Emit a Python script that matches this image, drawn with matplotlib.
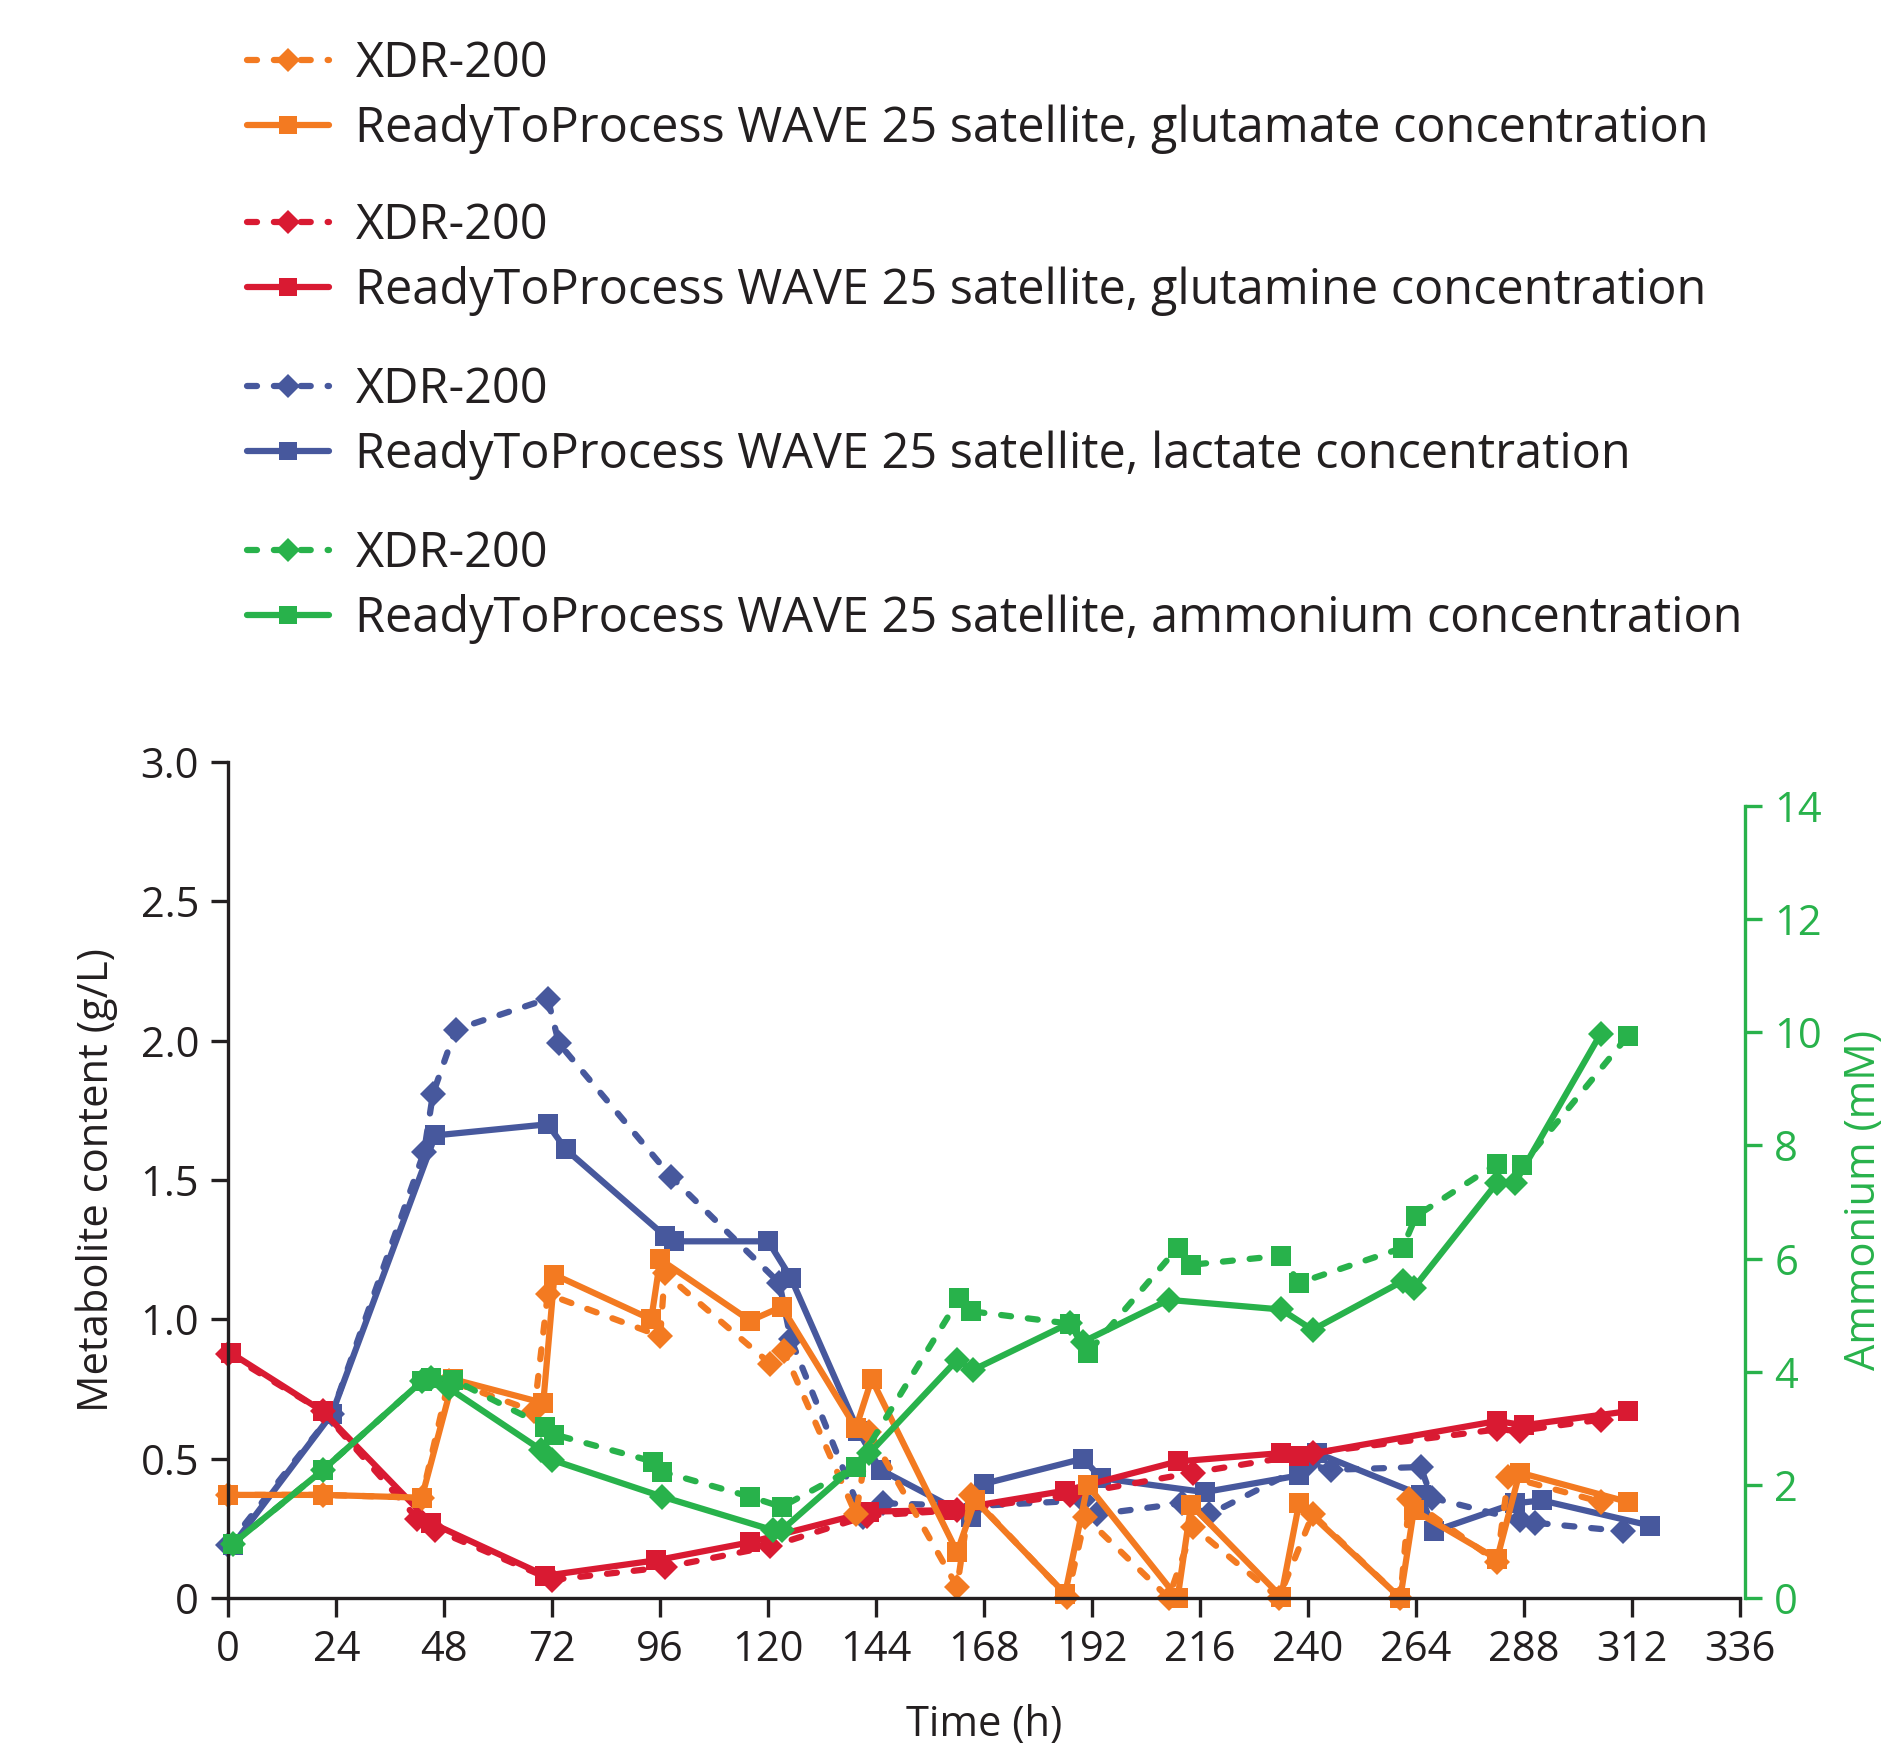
import matplotlib.pyplot as plt
from matplotlib.lines import Line2D

plt.rcParams['font.family'] = ['Open Sans', 'DejaVu Sans']

ORANGE = '#F37A21'
RED = '#D91A32'
BLUE = '#47589D'
GREEN = '#28B24B'
INK = '#231F20'

# glutamate (g/L)
t_glu_wave = [0, 21, 43, 50, 70, 72.5, 94, 96, 116, 123, 139.5, 143, 162, 166, 186, 191,
              211, 214, 234, 238, 260.5, 263.5, 282, 287, 311]
glu_wave = [0.37, 0.37, 0.36, 0.785, 0.70, 1.16, 1.00, 1.215, 0.995, 1.045, 0.61, 0.785, 0.165,
            0.35, 0.015, 0.405, 0.0, 0.335, 0.005, 0.34, 0.0, 0.315, 0.14, 0.45, 0.345]
t_glu_xdr = [0, 21, 43, 49, 68, 71, 96, 97, 120.5, 123.5, 139.5, 142.5, 162, 165, 186.5, 190.5,
             209, 214.5, 233.5, 241, 260.5, 262.5, 282, 284.5, 305]
glu_xdr = [0.37, 0.37, 0.36, 0.78, 0.67, 1.09, 0.94, 1.165, 0.84, 0.885, 0.30, 0.595, 0.04,
           0.37, 0.005, 0.29, 0.0, 0.255, 0.0, 0.30, 0.0, 0.355, 0.13, 0.435, 0.345]

# glutamine (g/L)
t_gln_wave = [0.5, 21, 45, 70.5, 95, 116, 142.5, 160, 186, 211, 234, 238, 282, 288, 311]
gln_wave = [0.88, 0.67, 0.27, 0.08, 0.135, 0.20, 0.31, 0.315, 0.385, 0.49, 0.52, 0.51,
            0.635, 0.62, 0.67]
t_gln_xdr = [0, 21, 42, 46, 72, 97, 120.5, 142, 162, 187, 214.5, 241, 282, 287, 305]
gln_xdr = [0.875, 0.67, 0.285, 0.245, 0.065, 0.11, 0.185, 0.295, 0.315, 0.37, 0.45, 0.52,
           0.605, 0.60, 0.64]

# lactate (g/L)
t_lac_wave = [1, 23, 46, 71, 75, 97, 99, 120, 125, 140, 145, 165, 168, 190, 194, 217, 238,
              242, 265, 268, 286, 292, 316]
lac_wave = [0.19, 0.66, 1.66, 1.70, 1.61, 1.30, 1.28, 1.28, 1.15, 0.60, 0.46, 0.29, 0.41,
            0.50, 0.43, 0.38, 0.44, 0.52, 0.37, 0.24, 0.34, 0.35, 0.26]
t_lac_xdr = [0, 23, 43.5, 45.5, 50.5, 71, 73.5, 98.5, 122.5, 125, 141, 145.5, 166, 190, 193,
             212, 218, 240, 245, 265, 267.5, 287, 290.5, 310]
lac_xdr = [0.19, 0.66, 1.60, 1.81, 2.04, 2.15, 1.99, 1.51, 1.13, 0.93, 0.29, 0.34, 0.33, 0.35,
           0.30, 0.34, 0.30, 0.48, 0.46, 0.47, 0.36, 0.28, 0.27, 0.24]

# ammonium (mM)
t_amm_wave = [1, 21, 43, 45, 49, 69.5, 72, 96.5, 121, 123, 142.5, 162, 165.5, 187, 190, 209,
              234, 241, 261, 263.5, 282, 286, 305]
amm_wave = [0.96, 2.26, 3.83, 3.89, 3.71, 2.62, 2.44, 1.79, 1.20, 1.20, 2.56, 4.21, 4.03,
            4.86, 4.53, 5.27, 5.10, 4.74, 5.60, 5.48, 7.34, 7.34, 9.97]
t_amm_xdr = [1, 21, 43, 45, 50, 70.5, 72.5, 94.5, 96.5, 116, 123, 139.5, 162.5, 165, 187, 191,
             211, 214, 234, 238, 261, 264, 282, 287.5, 311]
amm_xdr = [0.96, 2.26, 3.83, 3.89, 3.86, 3.03, 2.89, 2.41, 2.23, 1.79, 1.61, 2.32, 5.30, 5.07,
           4.85, 4.33, 6.19, 5.89, 6.05, 5.57, 6.19, 6.75, 7.68, 7.65, 9.93]

x_ticks = list(range(0, 337, 24))
y_ticks = [0, 0.5, 1.0, 1.5, 2.0, 2.5, 3.0]
y_labels = ['0', '0.5', '1.0', '1.5', '2.0', '2.5', '3.0']
y2_ticks = list(range(0, 15, 2))

LW = 4.5
DASH = (1.6, 2.7)

fig = plt.figure(figsize=(18.9, 17.5), dpi=100)
ax = fig.add_axes([228.3 / 1890, 1 - 1598 / 1750, (1740 - 228.3) / 1890, (1598 - 762) / 1750])
ax2 = ax.twinx()


def draw(a, t, v, color, dashed, marker):
    ms = 13.5 if marker == 'D' else 14
    kw = dict(color=color, lw=LW, marker=marker, ms=ms, clip_on=False,
              solid_joinstyle='miter', markeredgewidth=0)
    if dashed:
        kw.update(dashes=DASH, dash_capstyle='round')
    a.plot(t, v, **kw)


draw(ax, t_lac_xdr, lac_xdr, BLUE, True, 'D')
draw(ax, t_lac_wave, lac_wave, BLUE, False, 's')
draw(ax, t_gln_xdr, gln_xdr, RED, True, 'D')
draw(ax, t_gln_wave, gln_wave, RED, False, 's')
draw(ax, t_glu_xdr, glu_xdr, ORANGE, True, 'D')
draw(ax, t_glu_wave, glu_wave, ORANGE, False, 's')
draw(ax2, t_amm_xdr, amm_xdr, GREEN, True, 's')
draw(ax2, t_amm_wave, amm_wave, GREEN, False, 'D')

ax.set_xlim(0, 336)
ax.set_ylim(0, 3.0)
ax.set_xticks(x_ticks)
ax.set_yticks(y_ticks)
ax.set_yticklabels(y_labels)
for s in ['top', 'right']:
    ax.spines[s].set_visible(False)
for s in ['left', 'bottom']:
    ax.spines[s].set_linewidth(2.4)
    ax.spines[s].set_color(INK)
ax.tick_params(axis='x', direction='out', length=14, width=2.4, labelsize=30, pad=8,
               colors=INK)
ax.tick_params(axis='y', direction='out', length=12, width=2.4, labelsize=30, pad=9,
               colors=INK)
ax.set_xlabel('Time (h)', fontsize=30, color=INK, labelpad=24)
ax.set_ylabel('Metabolite content (g/L)', fontsize=30, color=INK, labelpad=16)

ax2.set_ylim(0, 14 * 836 / 792)
ax2.set_yticks(y2_ticks)
for s in ['top', 'left', 'bottom']:
    ax2.spines[s].set_visible(False)
ax2.spines['right'].set_bounds(0, 14)
ax2.spines['right'].set_position(('outward', 3.6))
ax2.spines['right'].set_linewidth(2.4)
ax2.spines['right'].set_color(GREEN)
ax2.tick_params(axis='y', direction='out', length=12, width=2.4, labelsize=30, pad=9,
                colors=GREEN)
ax2.set_ylabel('Ammonium (mM)', fontsize=30, color=GREEN)
ax2.yaxis.set_label_coords(1.068, (1598 - 1200) / 836)

# legend: four groups of two entries
groups = [(ORANGE, 'glutamate'), (RED, 'glutamine'), (BLUE, 'lactate'), (GREEN, 'ammonium')]
centers = [97, 259, 423, 587]
for (c, name), yc in zip(groups, centers):
    h1 = Line2D([], [], color=c, lw=LW, dashes=DASH, dash_capstyle='round', marker='D',
                ms=12, markeredgewidth=0)
    h2 = Line2D([], [], color=c, lw=LW, marker='s', ms=13, markeredgewidth=0,
                solid_capstyle='round')
    fig.legend([h1, h2], ['XDR-200', f'ReadyToProcess WAVE 25 satellite, {name} concentration'],
               loc='center left', bbox_to_anchor=(247 / 1890, 1 - yc / 1750),
               frameon=False, fontsize=35, handlelength=1.68, handletextpad=0.55,
               borderpad=0, borderaxespad=0, labelspacing=0.3, labelcolor=INK)

fig.savefig('out.png', dpi=100)
